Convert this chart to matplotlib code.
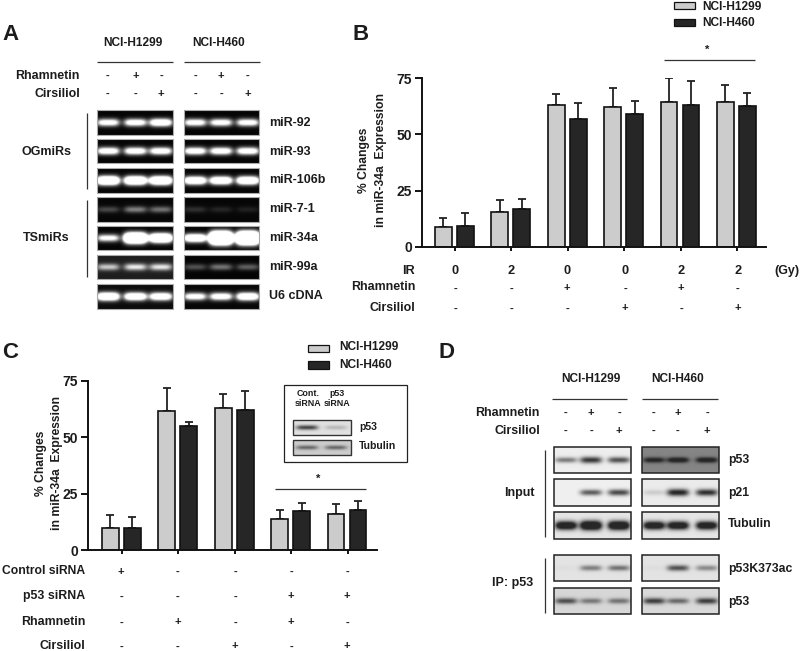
import numpy as np
import matplotlib
matplotlib.use("Agg")
import matplotlib.pyplot as plt
from matplotlib.patches import Rectangle

plt.rcParams['font.family'] = ['Liberation Sans', 'DejaVu Sans']

# ---------- data ----------
b_h1299 = [8.7, 15.6, 62.9, 62.3, 64.5, 64.2]
b_h1299_top = [12.8, 20.7, 68.0, 70.4, 74.9, 71.9]
b_h460 = [9.3, 16.8, 56.7, 59.2, 62.9, 62.6]
b_h460_top = [15.0, 21.4, 64.0, 64.7, 73.7, 68.4]
c_h1299 = [9.6, 61.7, 62.8, 13.9, 15.8]
c_h1299_top = [15.5, 71.6, 69.0, 17.7, 20.2]
c_h460 = [9.6, 54.9, 61.9, 17.3, 17.7]
c_h460_top = [14.5, 56.8, 70.5, 21.0, 21.9]
y_ticks = [0, 25, 50, 75]

ir_row = ['0', '2', '0', '0', '2', '2']
b_rham = ['-', '-', '+', '-', '+', '-']
b_cirs = ['-', '-', '-', '+', '-', '+']
c_ctrl = ['+', '-', '-', '-', '-']
c_p53 = ['-', '-', '-', '+', '+']
c_rham = ['-', '+', '-', '+', '-']
c_cirs = ['-', '-', '+', '-', '+']
lane_rham = ['-', '+', '-']
lane_cirs = ['-', '-', '+']

a_names = ['miR-92', 'miR-93', 'miR-106b', 'miR-7-1', 'miR-34a', 'miR-99a', 'U6 cDNA']
a_h1299 = [[1.2, 1.25, 1.5], [1.3, 1.3, 1.3], [2.2, 2.1, 2.1],
           [0.26, 0.48, 0.42], [1.1, 3.2, 2.4], [0.68, 0.82, 0.80], [1.8, 1.6, 1.5]]
a_h460 = [[1.2, 1.2, 1.2], [1.3, 1.3, 1.3], [1.7, 1.7, 1.8],
          [0.16, 0.12, 0.10], [1.8, 4.5, 4.5], [0.30, 0.44, 0.36], [1.2, 1.3, 1.6]]
a_bg_h1299 = [.02, .02, .02, .03, .02, .12, .05]
a_bg_h460 = [.02, .02, .02, .03, .02, .02, .03]

d_names = ['p53', 'p21', 'Tubulin', 'p53K373ac', 'p53']
d_h1299 = [[.45, .72, .62], [0, .58, .66], [1.1, 1.25, 1.2], [.02, .40, .45], [.55, .38, .40]]
d_h460 = [[.42, .48, .48], [.12, .82, .75], [1.05, 1.05, 1.05], [.02, .58, .36], [.62, .45, .62]]
d_bg_h1299 = [.93, .94, .90, .89, .84]
d_bg_h460 = [.52, .92, .90, .89, .85]

inset_names = ['p53', 'Tubulin']
inset_bands = [[.62, .16], [.40, .40]]
inset_bg = [.88, .80]

# ---------- layout helpers (pixel coordinates) ----------
W, H = 800, 651
fig = plt.figure(figsize=(W / 100, H / 100), dpi=100)
px = fig.add_axes([0, 0, 1, 1], zorder=5)
px.set_xlim(0, W); px.set_ylim(H, 0); px.axis('off'); px.patch.set_alpha(0)
TC = '#1c1c1c'

def T(x, y, s, size=8.9, ha='left', weight='bold', **kw):
    px.text(x, y, s, fontsize=size, ha=ha, va='center', fontweight=weight, color=TC, **kw)

def L(x0, y0, x1, y1, lw=0.9, c='#333333'):
    px.plot([x0, x1], [y0, y1], color=c, lw=lw, solid_capstyle='butt')

def gel(x0, x1, y0, y1, lanes, amps, bg, dark=True, wx=11, wy=2.6, edge='#777777', elw=0.8):
    n_h, n_w = int((y1 - y0) * 2), int((x1 - x0) * 2)
    xs = np.linspace(x0, x1, n_w)[None, :]
    ys = np.linspace(y0, y1, n_h)[:, None]
    yc = (y0 + y1) / 2
    img = np.full((n_h, n_w), float(bg))
    for lx, a in zip(lanes, amps):
        thick = wy * (1 + 0.2 * min(a, 6)) if dark else wy * (1 + 0.9 * max(a - 0.5, 0))
        prof = np.exp(-(np.abs(xs - lx) / wx) ** 4) * np.exp(-((ys - yc) / thick) ** 2)
        img = img + a * prof if dark else img - a * prof
    lo = 0.0 if dark else 0.16
    px.imshow(np.clip(img, lo, 1), cmap='gray', vmin=0, vmax=1, extent=[x0, x1, y1, y0],
              aspect='auto', interpolation='bilinear', zorder=1)
    px.add_patch(Rectangle((x0, y0), x1 - x0, y1 - y0, fill=False, ec=edge, lw=elw, zorder=2))

def sign_row(xs, vals, y):
    for x, v in zip(xs, vals):
        T(x, y - 0.5, v, size=8.0, ha='center')

def bars(x0, x1, y_top, y_bot, g, gt, d, dt, first_tick):
    ax = fig.add_axes([x0 / W, 1 - y_bot / H, (x1 - x0) / W, (y_bot - y_top) / H], zorder=2)
    step = 56.4
    ax.set_xlim((x0 - first_tick) / step, (x1 - first_tick) / step)
    ax.set_ylim(0, 75)
    xx = np.arange(len(g))
    w = 0.30
    for pos, vals, tops, col in [(xx - 0.205, g, gt, '#cccccc'), (xx + 0.185, d, dt, '#262626')]:
        ax.bar(pos, vals, w, color=col, edgecolor='#111111', linewidth=1.2, zorder=2)
        ax.errorbar(pos, vals, yerr=[np.zeros(len(vals)), np.array(tops) - np.array(vals)],
                    fmt='none', ecolor='#222222', elinewidth=1.3, capsize=3.2, capthick=1.3, zorder=1)
    for s in ['top', 'right']:
        ax.spines[s].set_visible(False)
    for s in ['left', 'bottom']:
        ax.spines[s].set_linewidth(1.4); ax.spines[s].set_color('#111111')
    ax.set_xticks(xx); ax.set_xticklabels([])
    ax.set_yticks(y_ticks)
    ax.set_yticklabels([str(v) for v in y_ticks], fontsize=10, fontweight='bold', color=TC)
    ax.tick_params(axis='y', length=5, width=1.3, pad=2)
    ax.tick_params(axis='x', length=3.2, width=1.3)
    ax.patch.set_alpha(0)
    return ax

def legend(sx0, sx1, ys, tx, ty):
    for (a, b), col in zip(ys, ['#cccccc', '#262626']):
        px.add_patch(Rectangle((sx0, a), sx1 - sx0, b - a, fc=col, ec='#111111', lw=0.9))
    T(tx, ty[0], 'NCI-H1299', size=8.6)
    T(tx, ty[1], 'NCI-H460', size=8.6)

# ---------- panel A ----------
T(2, 34, 'A', size=16)
T(133, 43, 'NCI-H1299', ha='center', size=8.6); T(219, 43, 'NCI-H460', ha='center', size=8.6)
L(97, 62, 173, 62); L(184, 62, 260, 62)
lanes_a1, lanes_a2 = [108, 135.5, 161], [195, 221, 248]
T(80, 76, 'Rhamnetin', ha='right'); T(80, 94, 'Cirsiliol', ha='right')
for ln in (lanes_a1, lanes_a2):
    sign_row(ln, lane_rham, 76.5); sign_row(ln, lane_cirs, 94.5)
a_rows = [(110, 135), (139, 163), (168, 193), (197, 222), (226, 250), (255, 279), (284, 309)]
a_ly = [123, 152, 180, 209, 238, 267, 296]
for i, (y0, y1) in enumerate(a_rows):
    gel(97, 173, y0, y1, lanes_a1, a_h1299[i], a_bg_h1299[i], wx=11.5, wy=3.0, edge='#aaaaaa')
    gel(184, 259, y0, y1, lanes_a2, a_h460[i], a_bg_h460[i], wx=11.5, wy=3.0, edge='#aaaaaa')
    T(269, a_ly[i], a_names[i], size=9)
L(87, 113, 87, 189); L(87, 200, 87, 277)
T(47, 152, 'OGmiRs', ha='center', size=9); T(46, 238, 'TSmiRs', ha='center', size=9)

# ---------- panel B ----------
T(352, 35, 'B', size=16)
bars(422, 766, 78, 247, b_h1299, b_h1299_top, b_h460, b_h460_top, 455)
T(364, 160, '% Changes', size=8.7, ha='center', rotation=90)
T(381, 160, 'in miR-34a  Expression', size=8.7, ha='center', rotation=90)
legend(674, 695, [(2, 9), (19, 26)], 702, [7, 23])
T(707, 49.5, '*', ha='center', size=8); L(664, 60, 755, 60)
bx = [455, 511, 567, 625, 681, 738]
T(415, 271, 'IR', ha='right', size=9.2); T(415, 287, 'Rhamnetin', ha='right'); T(415, 308, 'Cirsiliol', ha='right')
for x, v in zip(bx, ir_row):
    T(x, 271, v, ha='center', size=9.2)
sign_row(bx, b_rham, 289); sign_row(bx, b_cirs, 309)
T(774, 271, '(Gy)', size=9.0)

# ---------- panel C ----------
T(2, 352, 'C', size=16)
bars(88, 377, 380.7, 550, c_h1299, c_h1299_top, c_h460, c_h460_top, 122)
T(41, 463, '% Changes', ha='center', rotation=90, size=8.7)
T(57, 463, 'in miR-34a  Expression', ha='center', rotation=90, size=8.7)
legend(308, 329, [(345, 352), (361, 369)], 339, [347, 365])
px.add_patch(Rectangle((284, 385), 123, 77, fc='white', ec='#222222', lw=0.9, zorder=1))
T(308, 394, 'Cont.', size=6.4, ha='center'); T(308, 404, 'siRNA', size=6.4, ha='center')
T(337, 394, 'p53', size=6.4, ha='center'); T(337, 404, 'siRNA', size=6.4, ha='center')
inset_rows = [(420, 435), (440, 455)]
for (y0, y1), a, b, nm, ly in zip(inset_rows, inset_bands, inset_bg, inset_names, [427, 446]):
    gel(293, 351, y0, y1, [307, 336], a, b, dark=False, wx=11, wy=2.2, edge='#333333', elw=1.0)
    T(359, ly, nm, size=7.6)
T(318, 478.5, '*', ha='center', size=8); L(275, 489, 366, 489)
cx = [121, 178, 235, 291, 347]
for y, nm, vals, sz in [(571, 'Control siRNA', c_ctrl, 8.7), (596, 'p53 siRNA', c_p53, 8.9),
                        (622, 'Rhamnetin', c_rham, 8.9), (646, 'Cirsiliol', c_cirs, 8.9)]:
    T(85, y, nm, ha='right', size=sz)
    sign_row(cx, vals, y + 1)

# ---------- panel D ----------
T(438, 352, 'D', size=16)
T(591, 379, 'NCI-H1299', ha='center', size=8.6); T(678, 379, 'NCI-H460', ha='center', size=8.6)
L(552, 399, 627, 399); L(642, 399, 718, 399)
lanes_d1, lanes_d2 = [566, 591, 619], [654, 678, 707]
T(540, 413, 'Rhamnetin', ha='right'); T(540, 431, 'Cirsiliol', ha='right')
for ln in (lanes_d1, lanes_d2):
    sign_row(ln, lane_rham, 413.5); sign_row(ln, lane_cirs, 431.5)
d_rows = [(447, 473), (479, 506), (512, 539), (555, 581), (588, 614)]
d_ly = [460, 493, 524, 569, 602]
for i, (y0, y1) in enumerate(d_rows):
    gel(554, 631, y0, y1, lanes_d1, d_h1299[i], d_bg_h1299[i], dark=False, wx=11, wy=2.8, edge='#222222', elw=1.1)
    gel(642, 719, y0, y1, lanes_d2, d_h460[i], d_bg_h460[i], dark=False, wx=11, wy=2.8, edge='#222222', elw=1.1)
    T(728, d_ly[i], d_names[i], size=8.8)
L(545, 450, 545, 537); L(545, 558, 545, 613)
T(519, 493, 'Input', ha='center', size=9); T(513, 583, 'IP: p53', ha='center', size=9)

px.set_xlim(0, W); px.set_ylim(H, 0)
fig.savefig('out.png', dpi=100, facecolor='white')
